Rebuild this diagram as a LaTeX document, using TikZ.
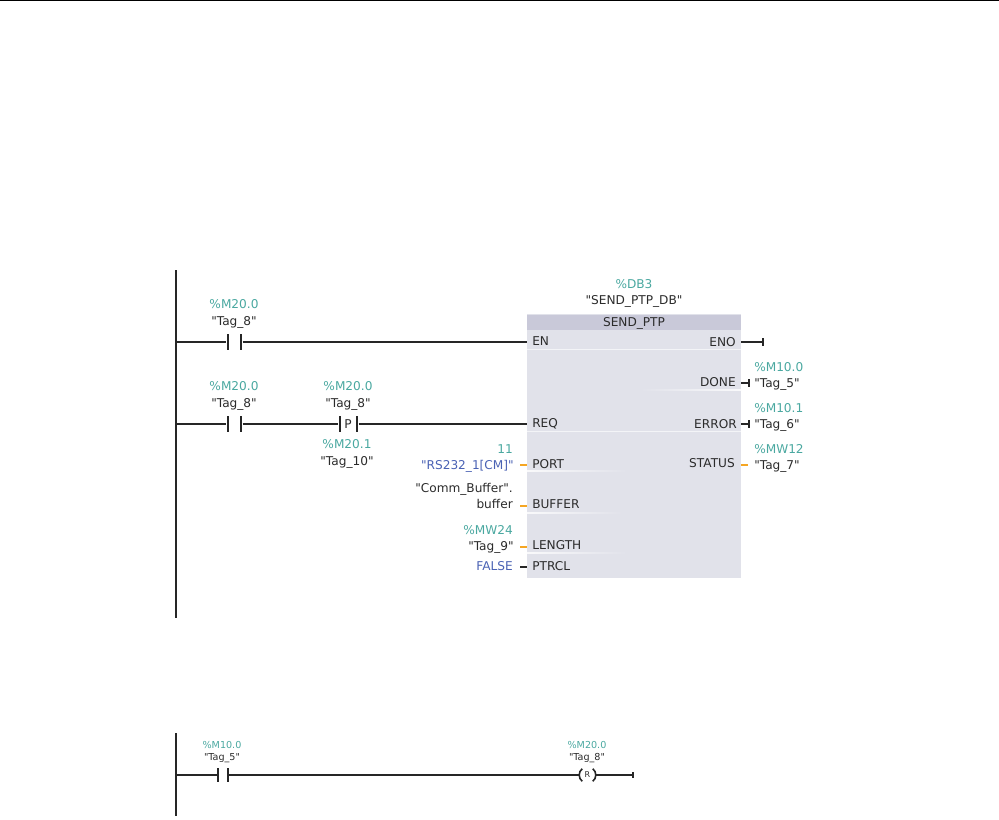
\documentclass[tikz,border=0pt]{standalone}
\usepackage{fontspec}
\newfontfamily\tagfont{DejaVu Sans}
\usetikzlibrary{positioning, calc}
\definecolor{tagteal}{HTML}{4AA8A0}
\definecolor{tagblue}{HTML}{4A62B4}
\definecolor{pinorange}{HTML}{F5A623}
\definecolor{blockgray}{HTML}{E1E2EA}
\definecolor{headgray}{HTML}{C9C9D9}
\definecolor{inktext}{HTML}{2B2B2B}
\begin{document}
\begin{tikzpicture}[
        x=0.75pt, y=-0.75pt,
        % text
        tagtext/.style={
            inner sep=0pt,
            text height=6.7pt,
            text depth=0pt,
            font=\tagfont\fontsize{9.1}{11}\selectfont,
            text=inktext
        },
        addr/.style={tagtext, text=tagteal},
        const/.style={tagtext, text=tagblue},
        smalltag/.style={tagtext, text height=5.3pt, font=\tagfont\fontsize{7.2}{8}\selectfont},
        smalladdr/.style={smalltag, text=tagteal},
        % wires and symbols
        wire/.style={line width=1.6pt, black!85},
        thinwire/.style={line width=1.2pt, black!85},
        pinO/.style={line width=1.3pt, pinorange},
        pinK/.style={line width=1.3pt, black!85},
        plate/.style={
            rectangle, fill=black!85, inner sep=0pt,
            minimum width=2pt, minimum height=12pt
        },
        smallplate/.style={plate, minimum width=1.5pt, minimum height=10.5pt},
        tick/.style={plate, minimum width=1.8pt, minimum height=5.5pt},
        smalltick/.style={plate, minimum width=1.4pt, minimum height=4pt},
        sepline/.style={line width=0.7pt, white!60!blockgray},
        sepfade/.style={left color=white!80!blockgray, right color=blockgray, draw=none}
    ]
    \useasboundingbox (0,0) rectangle (999,819);

    % --- 1. PAGE RULE ---
    \coordinate (ruleL) at (0,0.6);
    \coordinate (ruleR) at (999,0.6);
    \draw[line width=0.9pt] (ruleL) -- (ruleR);

    % --- 2. NETWORK 1 ---
    \coordinate (railTop) at (176,270);
    \coordinate (railBot) at (176,618);
    \draw[wire] (railTop) -- (railBot);

    % Block
    \node[rectangle, fill=blockgray, minimum width=160.5pt, minimum height=198pt, inner sep=0pt] (sendptp) at (634,446) {};
    \node[rectangle, fill=headgray, minimum width=160.5pt, minimum height=11.5pt, inner sep=0pt, below=0.4pt of sendptp.north] (head) {};
    \node[tagtext] (title) at (head.center) {SEND\_PTP};
    \node[tagtext, above=6.4pt of sendptp.north] (dbname) {"SEND\_PTP\_DB"};
    \node[addr, above=5.3pt of dbname] (dbaddr) {\%DB3};

    % Separators inside the block
    \coordinate (sepA) at (527,349);
    \coordinate (sepB) at (741,349);
    \coordinate (sepC) at (741,389.5);
    \coordinate (sepD) at (640,390.5);
    \coordinate (sepE) at (527,431);
    \coordinate (sepF) at (741,431);
    \coordinate (sepG) at (527,470.5);
    \coordinate (sepH) at (627,471.5);
    \coordinate (sepI) at (527,512);
    \coordinate (sepJ) at (622,513);
    \coordinate (sepK) at (527,552.5);
    \coordinate (sepL) at (627,553.5);
    \draw[sepline] (sepA) -- (sepB);
    \fill[sepfade, left color=blockgray, right color=white!80!blockgray] (sepD) rectangle (sepC);
    \draw[sepline] (sepE) -- (sepF);
    \fill[sepfade] (sepG) rectangle (sepH);
    \fill[sepfade] (sepI) rectangle (sepJ);
    \fill[sepfade] (sepK) rectangle (sepL);

    % Input pins
    \node[tagtext, anchor=west] (pinEN) at (532,341) {EN};
    \node[tagtext, anchor=west] (pinREQ) at (532,423) {REQ};
    \node[tagtext, anchor=west] (pinPORT) at (532,464) {PORT};
    \node[tagtext, anchor=west] (pinBUFFER) at (532,504) {BUFFER};
    \node[tagtext, anchor=west] (pinLENGTH) at (532,545) {LENGTH};
    \node[tagtext, anchor=west] (pinPTRCL) at (532,566) {PTRCL};

    % Output pins
    \node[tagtext, anchor=east] (pinENO) at (736,342) {ENO};
    \node[tagtext, anchor=east] (pinDONE) at (736,382) {DONE};
    \node[tagtext, anchor=east] (pinERROR) at (737,424) {ERROR};
    \node[tagtext, anchor=east] (pinSTATUS) at (735,463) {STATUS};

    % First rung
    \node[plate] (noA1) at (228,342) {};
    \node[plate] (noA2) at (241,342) {};
    \node[tagtext] (tagA) at (234,321) {"Tag\_8"};
    \node[addr, above=5.3pt of tagA] (addrA) {\%M20.0};
    \coordinate (rungA) at (176,342);
    \draw[wire] (rungA) -- (noA1);
    \draw[wire] (noA2) -- (noA2 -| sendptp.west);

    % Second rung
    \node[plate] (noB1) at (228,424) {};
    \node[plate] (noB2) at (241,424) {};
    \node[tagtext] (tagB) at (234,403) {"Tag\_8"};
    \node[addr, above=5.3pt of tagB] (addrB) {\%M20.0};
    \node[plate] (edge1) at (340,424) {};
    \node[plate] (edge2) at (357,424) {};
    \node[tagtext] (edgeP) at (348,424) {P};
    \node[tagtext] (tagP) at (348,403) {"Tag\_8"};
    \node[addr, above=5.3pt of tagP] (addrP) {\%M20.0};
    \node[addr] (addrQ) at (347,444) {\%M20.1};
    \node[tagtext, below=5.3pt of addrQ] (tagQ) {"Tag\_10"};
    \coordinate (rungB) at (176,424);
    \draw[wire] (rungB) -- (noB1);
    \draw[wire] (noB2) -- (edge1);
    \draw[wire] (edge2) -- (edge2 -| sendptp.west);

    % Input parameters
    \node[const, anchor=east] (valPort) at (514,465) {"RS232\_1[CM]"};
    \node[addr, anchor=east] (addrPort) at (513,449) {11};
    \node[tagtext, anchor=east] (valBuf) at (513,504) {buffer};
    \node[tagtext, anchor=east] (nameBuf) at (513,488) {"Comm\_Buffer".};
    \node[tagtext, anchor=east] (valLen) at (514,546) {"Tag\_9"};
    \node[addr, anchor=east] (addrLen) at (513,530) {\%MW24};
    \node[const, anchor=east] (valPtrcl) at (513,566) {FALSE};
    \coordinate (stubPort) at (520,465);
    \coordinate (stubBuf) at (520,506);
    \coordinate (stubLen) at (520,547);
    \coordinate (stubPtrcl) at (520,567);
    \draw[pinO] (stubPort) -- (stubPort -| sendptp.west);
    \draw[pinO] (stubBuf) -- (stubBuf -| sendptp.west);
    \draw[pinO] (stubLen) -- (stubLen -| sendptp.west);
    \draw[pinK] (stubPtrcl) -- (stubPtrcl -| sendptp.west);

    % Output parameters
    \node[tick] (endENO) at (763,342) {};
    \node[tick] (endDONE) at (749,383) {};
    \node[tick] (endERROR) at (749,424) {};
    \coordinate (stubSTATUS) at (748,465);
    \draw[wire] (endENO) -- (endENO -| sendptp.east);
    \draw[pinK] (endDONE) -- (endDONE -| sendptp.east);
    \draw[pinK] (endERROR) -- (endERROR -| sendptp.east);
    \draw[pinO] (stubSTATUS) -- (stubSTATUS -| sendptp.east);
    \node[tagtext, anchor=west] (tagDone) at (754,383) {"Tag\_5"};
    \node[addr, anchor=west] (addrDone) at (754,367) {\%M10.0};
    \node[tagtext, anchor=west] (tagErr) at (754,424) {"Tag\_6"};
    \node[addr, anchor=west] (addrErr) at (754,408) {\%M10.1};
    \node[tagtext, anchor=west] (tagStat) at (754,465) {"Tag\_7"};
    \node[addr, anchor=west] (addrStat) at (754,449) {\%MW12};

    % --- 3. NETWORK 2 ---
    \coordinate (rail2Top) at (176,733);
    \coordinate (rail2Bot) at (176,816);
    \draw[wire] (rail2Top) -- (rail2Bot);

    \node[smallplate] (noC1) at (218,775) {};
    \node[smallplate] (noC2) at (228,775) {};
    \node[smalltag] (tagC) at (222,757) {"Tag\_5"};
    \node[smalladdr] (addrC) at (222,745) {\%M10.0};

    \node[smalltag, text height=4pt, minimum width=7.5pt, minimum height=9pt] (coil) at (587.5,775) {\fontsize{6}{6}\selectfont R};
    \node[smalltag] (tagR) at (587,757) {"Tag\_8"};
    \node[smalladdr] (addrR) at (587,745) {\%M20.0};
    \node[smalltick] (endR) at (633,775) {};
    \coordinate (rungC) at (176,775);

    \draw[thinwire] (rungC) -- (noC1);
    \draw[thinwire] (noC2) -- ($(coil.west)+(-2,0)$);
    \draw[thinwire] ($(coil.east)+(2,0)$) -- (endR);
    \draw[thinwire] (coil.north west) to[bend right=55] (coil.south west);
    \draw[thinwire] (coil.north east) to[bend left=55] (coil.south east);

\end{tikzpicture}
\end{document}
